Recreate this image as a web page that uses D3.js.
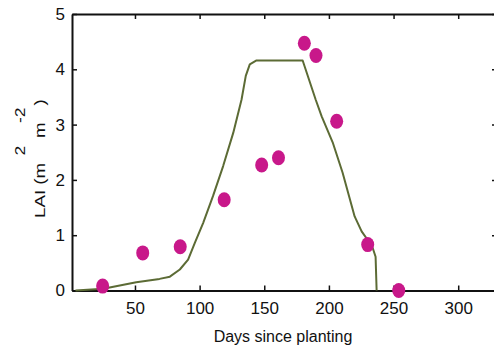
<!DOCTYPE html>
<html>
<head>
<meta charset="utf-8">
<script src="https://cdn.jsdelivr.net/npm/d3@7"></script>
<style>
  body { margin: 0; background: #fff; }
  svg text { font-family: "Liberation Sans", Arial, sans-serif; fill: #111; }
</style>
</head>
<body>
<div id="chart"></div>
<script>
// observed LAI
const obsDays = [25, 56, 85, 119, 148, 161, 181, 190, 206, 230, 254];
const obsLai = [0.08, 0.68, 0.79, 1.64, 2.27, 2.4, 4.47, 4.25, 3.06, 0.83, 0.0];

// simulated LAI
const simDays = [4, 25.5, 51, 69, 77, 84.7, 91.1, 96.3, 102.7, 110.4, 118.2, 126, 132.4, 135.7, 138.8, 144, 160, 179.7, 189.8, 194.4, 202.9, 210.6, 219.9, 225.3, 230.7, 234, 236.1, 236.9];
const simLai = [0, 0.03, 0.15, 0.21, 0.25, 0.38, 0.56, 0.86, 1.22, 1.71, 2.25, 2.85, 3.45, 3.88, 4.09, 4.16, 4.16, 4.16, 3.45, 3.15, 2.68, 2.13, 1.34, 1.07, 0.89, 0.76, 0.61, 0];

const xTicks = [50, 100, 150, 200, 250, 300];
const yTicks = [0, 1, 2, 3, 4, 5];

const W = 494, H = 351;
const margin = { left: 72, top: 14, right: -3, bottom: 60 };

const svg = d3.select("#chart").append("svg")
    .attr("width", W)
    .attr("height", H);

const x = d3.scaleLinear()
    .domain([1.3, 330])
    .range([margin.left, W - margin.right]);

const y = d3.scaleLinear()
    .domain([0, 5])
    .range([H - margin.bottom - 0.5, margin.top]);

const ink = "#111";

// bottom axis
const gx = svg.append("g")
    .attr("transform", `translate(0,${y(0)})`)
    .call(d3.axisBottom(x).tickValues(xTicks).tickSizeInner(-5).tickSizeOuter(0).tickPadding(11));

// top axis, ticks only
const gt = svg.append("g")
    .attr("transform", `translate(0,${y(5)})`)
    .call(d3.axisTop(x).tickValues(xTicks).tickSizeInner(-5).tickSizeOuter(0).tickFormat(""));

// left axis
const gy = svg.append("g")
    .attr("transform", `translate(${x.range()[0]},0)`)
    .call(d3.axisLeft(y).tickValues(yTicks).tickFormat(d3.format("d")).tickSizeInner(-5).tickSizeOuter(0).tickPadding(7));

// right axis, ticks only
const gr = svg.append("g")
    .attr("transform", `translate(${x.range()[1]},0)`)
    .call(d3.axisRight(y).tickValues(yTicks).tickSizeInner(-5).tickSizeOuter(0).tickFormat(""));

[gx, gt, gy, gr].forEach(g => {
    g.select(".domain").attr("stroke", ink).attr("stroke-width", 2);
    g.selectAll(".tick line").attr("stroke", ink).attr("stroke-width", 1.5);
    g.selectAll("text").style("font-size", "17px").attr("fill", ink);
});

// simulated line
const line = d3.line()
    .x((d, i) => x(simDays[i]))
    .y((d, i) => y(simLai[i]));

svg.append("path")
    .datum(simLai)
    .attr("d", line)
    .attr("fill", "none")
    .attr("stroke", "#5c6b35")
    .attr("stroke-width", 2)
    .attr("stroke-linejoin", "round");

// observed points
svg.selectAll(".obs")
    .data(obsDays)
    .enter()
    .append("ellipse")
    .attr("class", "obs")
    .attr("cx", (d) => x(d))
    .attr("cy", (d, i) => y(obsLai[i]))
    .attr("rx", 6.5)
    .attr("ry", 7.5)
    .attr("fill", "#c8188a");

// axis titles
svg.append("text")
    .attr("x", 283)
    .attr("y", 342)
    .attr("text-anchor", "middle")
    .style("font-size", "16px")
    .text("Days since planting");

// y title: superscripts sit in a column to the left of the main text
const ylab = svg.append("text")
    .attr("transform", "translate(45,218) scale(1,1.25) rotate(-90)")
    .style("font-size", "15px");
ylab.append("tspan").attr("x", 0).attr("y", 0).text("LAI (m");
ylab.append("tspan").attr("x", 50).attr("y", -20).style("font-size", "14px").text("2");
ylab.append("tspan").attr("x", 64).attr("y", 0).text("m");
ylab.append("tspan").attr("x", 76).attr("y", -20).style("font-size", "14px").text("-2");
ylab.append("tspan").attr("x", 90).attr("y", 0).text(")");
</script>
</body>
</html>
